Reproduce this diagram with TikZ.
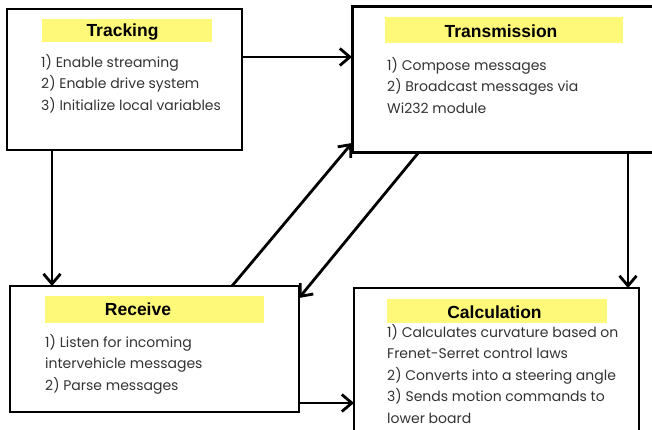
\documentclass[tikz,border=0pt]{standalone}
\usepackage{fontspec}
\newfontfamily\bodyfont{Poppins}
\newfontfamily\headfont{Liberation Sans}
\usetikzlibrary{arrows.meta,calc}
\definecolor{headyellow}{HTML}{FFF97A}
\begin{document}
\begin{tikzpicture}[x=1pt,y=-1pt,
  >={Straight Barb[length=10pt,width=17pt]},
  box/.style={draw,line width=2pt,anchor=north west,inner sep=0pt,outer sep=0pt},
  headbar/.style={fill=headyellow,anchor=north west,inner sep=0pt,outer sep=0pt},
  title/.style={anchor=base,font=\headfont\bfseries\fontsize{17.5}{20}\selectfont},
  body/.style={anchor=north west,align=left,inner sep=0pt,text=black!80,
    font=\bodyfont\fontsize{14}{21.5}\selectfont},
  arr/.style={->,line width=2.8pt}]
\useasboundingbox (0,0) rectangle (652,429);
\node[box,minimum width=235pt,minimum height=141pt] (tracking) at (7,9) {};
\node[box,line width=3pt,minimum width=304pt,minimum height=146pt] (transmission) at (352,6) {};
\node[box,minimum width=289pt,minimum height=126pt] (receive) at (10,286) {};
\node[box,line width=2.4pt,minimum width=285pt,minimum height=160pt] (calculation) at (354,288) {};
\node[headbar,minimum width=170pt,minimum height=23pt] (trackbar) at (42,19) {};
\node[headbar,minimum width=238pt,minimum height=26pt] (transbar) at (385,17) {};
\node[headbar,minimum width=219pt,minimum height=27pt] (recvbar) at (45,296) {};
\node[headbar,minimum width=220pt,minimum height=24pt] (calcbar) at (387,299) {};
\node[title] (tracktitle) at (122.5,36) {Tracking};
\node[title] (transtitle) at (501,37) {Transmission};
\node[title] (recvtitle) at (138,315) {Receive};
\node[title] (calctitle) at (494.5,318) {Calculation};
\node[body] (tracktext) at (41,54) {1) Enable streaming\\2) Enable drive system\\3) Initialize local variables};
\node[body] (transtext) at (387,57) {1) Compose messages\\2) Broadcast messages via\\Wi232 module};
\node[body] (recvtext) at (45,334) {1) Listen for incoming\\intervehicle messages\\2) Parse messages};
\node[body] (calctext) at (387,324) {1) Calculates curvature based on\\Frenet-Serret control laws\\2) Converts into a steering angle\\3) Sends motion commands to\\lower board};
\draw[arr] ($(tracking.north east)+(0,48)$) -- ($(transmission.north west)+(0,51)$);
\draw[arr] ($(tracking.south west)+(45,0)$) -- ($(receive.north west)+(42,0)$);
\draw[arr] ($(receive.north west)+(222,0)$) -- ($(transmission.south west)+(0,-9)$);
\draw[arr] ($(transmission.south west)+(67,0)$) -- ($(receive.north east)+(0,12)$);
\draw[arr] ($(transmission.south west)+(276,0)$) -- ($(calculation.north west)+(274,0)$);
\draw[arr] ($(receive.south east)+(0,-9)$) -- ($(calculation.north west)+(0,115)$);
\end{tikzpicture}
\end{document}
